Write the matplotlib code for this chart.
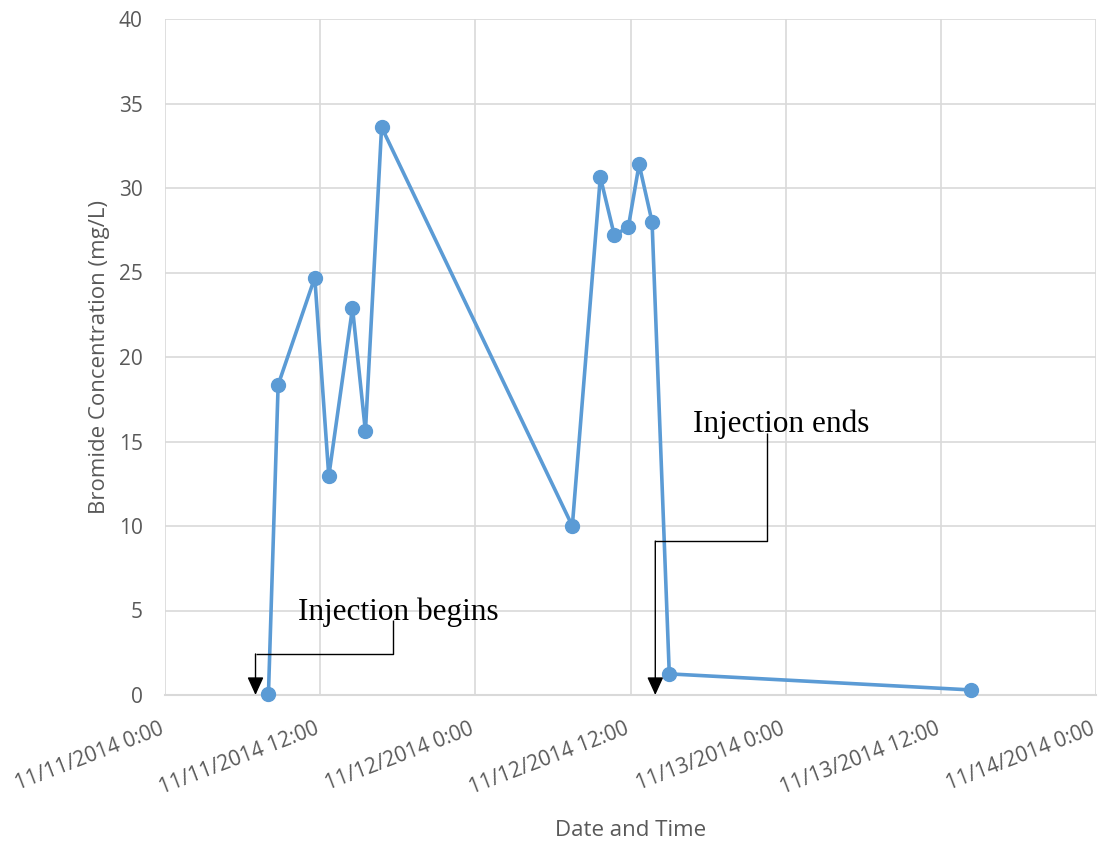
import matplotlib
matplotlib.use("Agg")
import matplotlib.pyplot as plt
import matplotlib.dates as mdates
from matplotlib.ticker import FuncFormatter, MultipleLocator
from matplotlib.transforms import ScaledTranslation
from datetime import datetime

# Sampling times and bromide concentrations (mg/L)
sample_times = [
    "2014-11-11 08:00", "2014-11-11 08:45", "2014-11-11 11:35", "2014-11-11 12:40",
    "2014-11-11 14:30", "2014-11-11 15:30", "2014-11-11 16:45", "2014-11-12 07:30",
    "2014-11-12 09:40", "2014-11-12 10:45", "2014-11-12 11:50", "2014-11-12 12:40",
    "2014-11-12 13:40", "2014-11-12 15:00", "2014-11-13 14:20",
]
bromide_mg_l = [0.05, 18.35, 24.7, 12.95, 22.9, 15.6, 33.6, 10.0,
                30.65, 27.2, 27.7, 31.4, 28.0, 1.25, 0.3]

injection_start = "2014-11-11 07:00"
injection_end = "2014-11-12 13:55"

x_start = "2014-11-11 00:00"
x_end = "2014-11-14 00:00"
y_max = 40
y_step = 5

fmt = "%Y-%m-%d %H:%M"
times = [datetime.strptime(t, fmt) for t in sample_times]
t0 = datetime.strptime(x_start, fmt)
t1 = datetime.strptime(x_end, fmt)

grey_text = "#595959"
grid_col = "#D9D9D9"
line_col = "#5B9BD5"
sans = ["Open Sans", "DejaVu Sans"]
serif = ["Liberation Serif", "DejaVu Serif"]

fig = plt.figure(figsize=(11.01, 8.41), dpi=100)
ax = fig.add_axes([165 / 1101, (841 - 695) / 841, (1096 - 165) / 1101, (695 - 19) / 841])

ax.plot(times, bromide_mg_l, color=line_col, lw=2.6, marker="o", ms=10,
        markerfacecolor=line_col, markeredgecolor=line_col, zorder=3, clip_on=False)

ax.set_xlim(t0, t1)
ax.set_ylim(0, y_max)
ax.xaxis.set_major_locator(mdates.HourLocator(byhour=[0, 12]))


def date_label(v, pos):
    d = mdates.num2date(v)
    return f"{d.month}/{d.day}/{d.year} {d.hour}:{d.minute:02d}"


ax.xaxis.set_major_formatter(FuncFormatter(date_label))
ax.yaxis.set_major_locator(MultipleLocator(y_step))

ax.grid(True, color=grid_col, lw=1.2, zorder=0)
ax.set_axisbelow(True)
for side in ["top", "right", "left"]:
    ax.spines[side].set_visible(False)
ax.spines["bottom"].set_color(grid_col)
ax.spines["bottom"].set_linewidth(1.5)

ax.tick_params(axis="both", length=0, colors=grey_text)
ax.tick_params(axis="y", pad=16)
ax.tick_params(axis="x", pad=17)
for lab in ax.get_yticklabels():
    lab.set_fontfamily(sans)
    lab.set_fontsize(15)
shift_left = ScaledTranslation(-6 / 100, 0, fig.dpi_scale_trans)
for lab in ax.get_xticklabels():
    lab.set_fontfamily(sans)
    lab.set_fontsize(15)
    lab.set_rotation(21)
    lab.set_ha("right")
    lab.set_va("top")
    lab.set_rotation_mode("anchor")
    lab.set_transform(lab.get_transform() + shift_left)

ax.set_xlabel("Date and Time", fontsize=16, color=grey_text, family=sans)
ax.set_ylabel("Bromide Concentration (mg/L)", fontsize=16, color=grey_text, family=sans)
ax.xaxis.set_label_coords(0.5, (695 - 820) / 676)
ax.yaxis.set_label_coords((110 - 165) / 931, 0.5)

# Injection annotations with elbow leaders
def leader(arrow_time, elbow_y, stem_time, stem_top, text, text_time, text_y):
    ta = datetime.strptime(arrow_time, fmt)
    ts = datetime.strptime(stem_time, fmt)
    tt = datetime.strptime(text_time, fmt)
    ax.plot([ts, ts, ta], [stem_top, elbow_y, elbow_y], color="black", lw=1.0,
            zorder=4, solid_capstyle="butt")
    ax.annotate("", xy=(ta, 0), xytext=(ta, elbow_y),
                arrowprops=dict(arrowstyle="-|>,head_length=0.55,head_width=0.25",
                                color="black", lw=1.0, shrinkA=0, shrinkB=0,
                                mutation_scale=20),
                zorder=4, annotation_clip=False)
    ax.text(tt, text_y, text, family=serif, fontsize=22.5, color="black",
            ha="left", va="baseline", zorder=5)


leader(injection_start, 2.43, "2014-11-11 17:36", 4.44,
       "Injection begins", "2014-11-11 10:17", 4.44)
leader(injection_end, 9.11, "2014-11-12 22:34", 15.5,
       "Injection ends", "2014-11-12 16:50", 15.56)

fig.savefig("out.png", dpi=100)
